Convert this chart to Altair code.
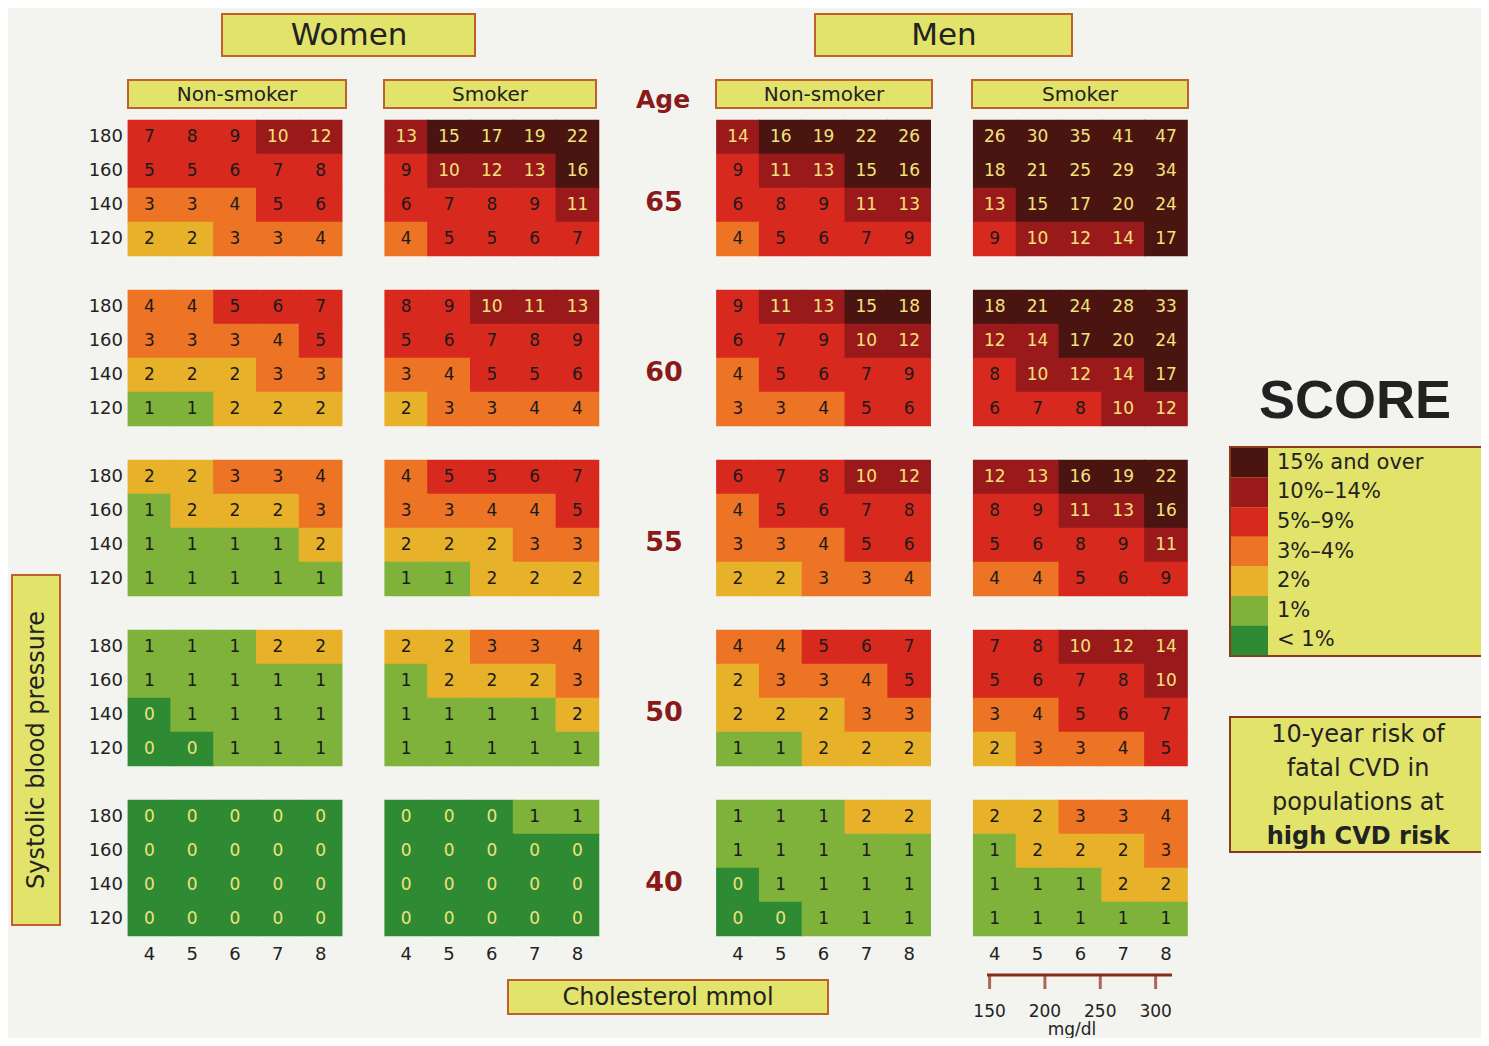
import altair as alt
import pandas as pd

# SCORE chart values: [age][panel][bp row 180,160,140,120][chol 4..8]
ages = [65, 60, 55, 50, 40]
panels = ["Women non-smoker", "Women smoker", "Men non-smoker", "Men smoker"]
bp_labels = [180, 160, 140, 120]
chol_labels = [4, 5, 6, 7, 8]
mg_labels = [150, 200, 250, 300]

risk = {
    65: [
        [[7, 8, 9, 10, 12], [5, 5, 6, 7, 8], [3, 3, 4, 5, 6], [2, 2, 3, 3, 4]],
        [[13, 15, 17, 19, 22], [9, 10, 12, 13, 16], [6, 7, 8, 9, 11], [4, 5, 5, 6, 7]],
        [[14, 16, 19, 22, 26], [9, 11, 13, 15, 16], [6, 8, 9, 11, 13], [4, 5, 6, 7, 9]],
        [[26, 30, 35, 41, 47], [18, 21, 25, 29, 34], [13, 15, 17, 20, 24], [9, 10, 12, 14, 17]],
    ],
    60: [
        [[4, 4, 5, 6, 7], [3, 3, 3, 4, 5], [2, 2, 2, 3, 3], [1, 1, 2, 2, 2]],
        [[8, 9, 10, 11, 13], [5, 6, 7, 8, 9], [3, 4, 5, 5, 6], [2, 3, 3, 4, 4]],
        [[9, 11, 13, 15, 18], [6, 7, 9, 10, 12], [4, 5, 6, 7, 9], [3, 3, 4, 5, 6]],
        [[18, 21, 24, 28, 33], [12, 14, 17, 20, 24], [8, 10, 12, 14, 17], [6, 7, 8, 10, 12]],
    ],
    55: [
        [[2, 2, 3, 3, 4], [1, 2, 2, 2, 3], [1, 1, 1, 1, 2], [1, 1, 1, 1, 1]],
        [[4, 5, 5, 6, 7], [3, 3, 4, 4, 5], [2, 2, 2, 3, 3], [1, 1, 2, 2, 2]],
        [[6, 7, 8, 10, 12], [4, 5, 6, 7, 8], [3, 3, 4, 5, 6], [2, 2, 3, 3, 4]],
        [[12, 13, 16, 19, 22], [8, 9, 11, 13, 16], [5, 6, 8, 9, 11], [4, 4, 5, 6, 9]],
    ],
    50: [
        [[1, 1, 1, 2, 2], [1, 1, 1, 1, 1], [0, 1, 1, 1, 1], [0, 0, 1, 1, 1]],
        [[2, 2, 3, 3, 4], [1, 2, 2, 2, 3], [1, 1, 1, 1, 2], [1, 1, 1, 1, 1]],
        [[4, 4, 5, 6, 7], [2, 3, 3, 4, 5], [2, 2, 2, 3, 3], [1, 1, 2, 2, 2]],
        [[7, 8, 10, 12, 14], [5, 6, 7, 8, 10], [3, 4, 5, 6, 7], [2, 3, 3, 4, 5]],
    ],
    40: [
        [[0, 0, 0, 0, 0], [0, 0, 0, 0, 0], [0, 0, 0, 0, 0], [0, 0, 0, 0, 0]],
        [[0, 0, 0, 1, 1], [0, 0, 0, 0, 0], [0, 0, 0, 0, 0], [0, 0, 0, 0, 0]],
        [[1, 1, 1, 2, 2], [1, 1, 1, 1, 1], [0, 1, 1, 1, 1], [0, 0, 1, 1, 1]],
        [[2, 2, 3, 3, 4], [1, 2, 2, 2, 3], [1, 1, 1, 2, 2], [1, 1, 1, 1, 1]],
    ],
}

classes = ["15% and over", "10%–14%", "5%–9%", "3%–4%", "2%", "1%", "< 1%"]
class_colors = ["#4a1410", "#9a1a1c", "#d8291f", "#ec7424", "#e8b12a", "#7fb23a", "#2f8a34"]
panel_offset = [0, 6, 13.75, 19.75]


def risk_class(v):
    if v >= 15: return classes[0]
    if v >= 10: return classes[1]
    if v >= 5: return classes[2]
    if v >= 3: return classes[3]
    if v == 2: return classes[4]
    if v == 1: return classes[5]
    return classes[6]


rows = []
for a, age in enumerate(ages):
    for p in range(4):
        for b in range(4):
            for c in range(5):
                v = risk[age][p][b][c]
                rows.append({"x": panel_offset[p] + c, "y": a * 5 + b, "value": v, "cls": risk_class(v)})
df = pd.DataFrame(rows)
df["x1"] = df.x - 0.51
df["x2"] = df.x + 0.51
df["y1"] = df.y - 0.51
df["y2"] = df.y + 0.51

W, H = 1473, 1030
xs = alt.Scale(domain=[-3.304, 31.11], nice=False, zero=False)
ys = alt.Scale(domain=[-3.794, 26.5], nice=False, zero=False, reverse=True)
noax = None
cscale = alt.Scale(domain=classes, range=class_colors)


def ry(py):
    # page pixel row -> row units of the y scale
    return (py - 120) / 34 - 0.5


cells = alt.Chart(df).mark_rect().encode(
    x=alt.X("x1:Q", scale=xs, axis=noax), x2="x2",
    y=alt.Y("y1:Q", scale=ys, axis=noax), y2="y2",
    color=alt.Color("cls:N", scale=cscale, legend=None),
)
nums = alt.Chart(df).mark_text(font="DejaVu Sans", fontSize=17).encode(
    x=alt.X("x:Q", scale=xs, axis=noax),
    y=alt.Y("y:Q", scale=ys, axis=noax),
    text="value:Q",
    color=alt.condition("datum.value == 0 || datum.value >= 10", alt.value("#f2e27a"), alt.value("#1a1a1a")),
)

bp_df = pd.DataFrame([{"y": a * 5 + b, "t": str(bp)} for a in range(5) for b, bp in enumerate(bp_labels)])
bp_text = alt.Chart(bp_df).mark_text(align="right", fontSize=18, font="DejaVu Sans", color="#222").encode(
    x=alt.value(115), y=alt.Y("y:Q", scale=ys, axis=noax), text="t:N")
ch_df = pd.DataFrame([{"x": panel_offset[p] + i, "t": str(c)} for p in range(4) for i, c in enumerate(chol_labels)])
ch_text = alt.Chart(ch_df).mark_text(fontSize=18, font="DejaVu Sans", color="#222").encode(
    x=alt.X("x:Q", scale=xs, axis=noax), y=alt.value(947), text="t:N")
age_df = pd.DataFrame([{"y": a * 5 + 1.95, "t": str(age)} for a, age in enumerate(ages)])
age_text = alt.Chart(age_df).mark_text(fontSize=27, fontWeight="bold", font="DejaVu Sans", color="#8a1a1a").encode(
    x=alt.value(656), y=alt.Y("y:Q", scale=ys, axis=noax), text="t:N")

layers = [cells, nums, bp_text, ch_text, age_text]
one = pd.DataFrame({"d": [0]})


def box(x1, y1, x2, y2, fill, stroke="#c0602a", sw=2):
    return alt.Chart(one).mark_rect(fill=fill, stroke=stroke, strokeWidth=sw).encode(
        x=alt.value(x1 - 8), x2=alt.value(x2 - 8), y=alt.value(y1 - 8), y2=alt.value(y2 - 8))


def label(x, y, t, size, font="DejaVu Sans", **kw):
    return alt.Chart(one).mark_text(text=t, fontSize=size, font=font, **kw).encode(
        x=alt.value(x - 8), y=alt.value(y - 8))


yellow = "#e2e36a"
layers += [
    box(222, 14, 475, 56, yellow), label(349, 36, "Women", 31, color="#222"),
    box(815, 14, 1072, 56, yellow), label(944, 36, "Men", 31, color="#222"),
]
for x1, x2, t in [(128, 346, "Non-smoker"), (384, 596, "Smoker"), (716, 932, "Non-smoker"), (972, 1188, "Smoker")]:
    layers += [box(x1, 80, x2, 108, yellow), label((x1 + x2) / 2, 95, t, 20, color="#222")]
layers += [label(663, 100, "Age", 25, fontWeight="bold", color="#8a1a1a")]

layers += [
    box(12, 575, 60, 925, yellow),
    label(37, 750, "Systolic blood pressure", 24, angle=270, color="#222"),
    box(508, 980, 828, 1014, yellow),
    label(668, 998, "Cholesterol  mmol", 24, color="#222"),
]

# mg/dl scale under the men smoker panel (1 mmol/l = 38.67 mg/dl)
mg_df = pd.DataFrame({"mg": mg_labels, "t": [str(m) for m in mg_labels]})
mg_df["xp"] = panel_offset[3] + mg_df.mg / 38.67 - 4
layers += [
    alt.Chart(one).mark_rule(color="#8a2a1a", strokeWidth=3).encode(
        x=alt.value(987 - 8), x2=alt.value(1172 - 8), y=alt.value(975 - 8)),
    alt.Chart(mg_df).mark_tick(color="#8a2a1a", thickness=3, size=14, orient="vertical").encode(
        x=alt.X("xp:Q", scale=xs, axis=noax), y=alt.value(982 - 8)),
    alt.Chart(mg_df).mark_text(fontSize=17, font="DejaVu Sans", color="#222").encode(
        x=alt.X("xp:Q", scale=xs, axis=noax), y=alt.value(1012 - 8), text="t:N"),
    label(1072, 1030, "mg/dl", 17, color="#222"),
]

# SCORE logo, legend, description
layers += [label(1355, 402, "SCORE", 54, font="Liberation Sans", fontWeight="bold", color="#222")]
layers += [box(1230, 447, 1488, 656, yellow, stroke="#8a3a1a")]
leg_df = pd.DataFrame({"cls": classes, "i": list(range(7))})
leg_df["y1"] = ry(448) + leg_df.i * 29.6 / 34
leg_df["y2"] = leg_df.y1 + 29.6 / 34
leg_df["ty"] = leg_df.y1 + 14.8 / 34
layers += [
    alt.Chart(leg_df).mark_rect().encode(
        x=alt.value(1231 - 8), x2=alt.value(1268 - 8),
        y=alt.Y("y1:Q", scale=ys, axis=noax), y2="y2",
        color=alt.Color("cls:N", scale=cscale, legend=None)),
    alt.Chart(leg_df).mark_text(align="left", fontSize=21, font="DejaVu Sans", color="#222").encode(
        x=alt.value(1277 - 8), y=alt.Y("ty:Q", scale=ys, axis=noax), text="cls:N"),
]
layers += [box(1230, 717, 1488, 852, yellow, stroke="#8a3a1a")]
for i, t in enumerate(["10-year risk of", "fatal CVD in", "populations at"]):
    layers += [label(1358, 735 + i * 34, t, 24, color="#222")]
layers += [label(1358, 837, "high CVD risk", 24, fontWeight="bold", color="#222")]

chart = alt.layer(*layers).properties(
    width=W, height=H, autosize=alt.AutoSizeParams(type="none"), padding=0,
    background="#f3f4ef",
).configure_view(strokeWidth=0)

chart.save("out.html", embed_options={"renderer": "svg", "actions": False})
